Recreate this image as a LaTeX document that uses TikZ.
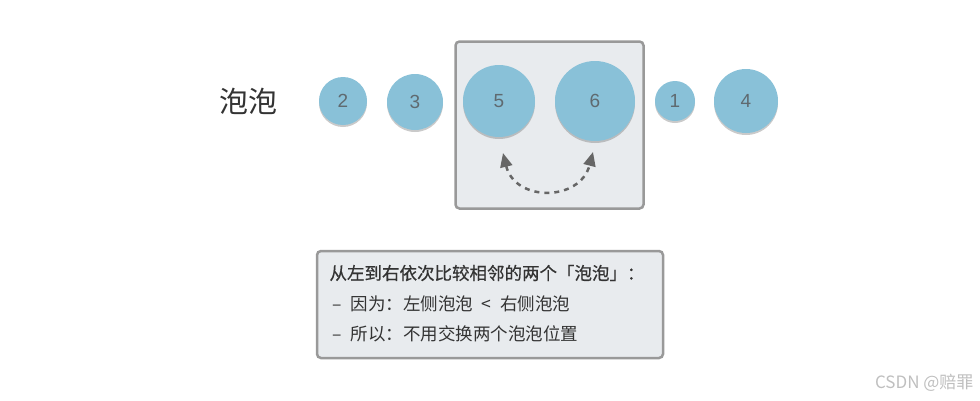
\documentclass[tikz,border=0pt]{standalone}
\usepackage{fontspec}
\setmainfont{Liberation Sans}
\newfontfamily\cjk{Noto Sans CJK SC}
\newfontfamily\cjkb[FakeBold=0.5]{Noto Sans CJK SC}
\usetikzlibrary{shadows,arrows.meta}
\definecolor{bub}{HTML}{89C1D8}
\definecolor{boxfill}{HTML}{E8EBEE}
\definecolor{boxline}{HTML}{999999}
\definecolor{txt}{HTML}{333333}
\definecolor{numc}{HTML}{5F6A70}
\definecolor{arr}{HTML}{666666}
\tikzset{
  bubble/.style={circle, fill=bub, draw=none, inner sep=0pt, text=numc,
    font=\fontsize{19}{19}\selectfont,
    drop shadow={shadow xshift=0pt, shadow yshift=-2pt, opacity=0.35, fill=black!60}},
  panel/.style={draw=boxline, line width=2.5pt, fill=boxfill, rounded corners=4pt},
  info/.style={anchor=west, text=txt, font=\cjk\fontsize{17.5}{17.5}\selectfont},
}
\begin{document}
\begin{tikzpicture}[x=1pt,y=-1pt]
\useasboundingbox (0,0) rectangle (980,400);
% highlight box
\node[panel, minimum width=188pt, minimum height=167pt, inner sep=0pt] (hl) at (549.5,125) {};
% label
\node[text=txt, font=\cjk\fontsize{29}{29}\selectfont] (lbl) at (248,101) {泡泡};
% bubbles
\node[bubble, minimum size=48pt] (b2) at (343,101) {2};
\node[bubble, minimum size=56pt] (b3) at (415,102) {3};
\node[bubble, minimum size=72pt] (b5) at (499,101) {5};
\node[bubble, minimum size=80pt] (b6) at (595,101) {6};
\node[bubble, minimum size=40pt] (b1) at (675,101) {1};
\node[bubble, minimum size=64pt] (b4) at (746,101) {4};
% swap arrow
\coordinate (s5) at (503,153);
\coordinate (s6) at (593,152);
\draw[arr, line width=2.5pt, dash pattern=on 5pt off 5pt,
  {Triangle[length=14pt,width=12pt]}-{Triangle[length=14pt,width=12pt]}]
  (s5) .. controls (515,202) and (580,202) .. (s6);
% info box
\node[panel, minimum width=346pt, minimum height=107pt, inner sep=0pt] (info) at (490,304.5) {};
\node[info, font=\cjkb\fontsize{17.5}{17.5}\selectfont] (l1) at (326,273) {从左到右依次比较相邻的两个「泡泡」：};
\node[info] (l2) at (326,304) {\,–\enspace 因为：左侧泡泡\enspace<\enspace 右侧泡泡};
\node[info] (l3) at (326,334) {\,–\enspace 所以：不用交换两个泡泡位置};
% watermark
\node[anchor=east, text=black!25, font=\cjk\fontsize{17}{17}\selectfont] (wm) at (977,383) {CSDN @赔罪};
\end{tikzpicture}
\end{document}
